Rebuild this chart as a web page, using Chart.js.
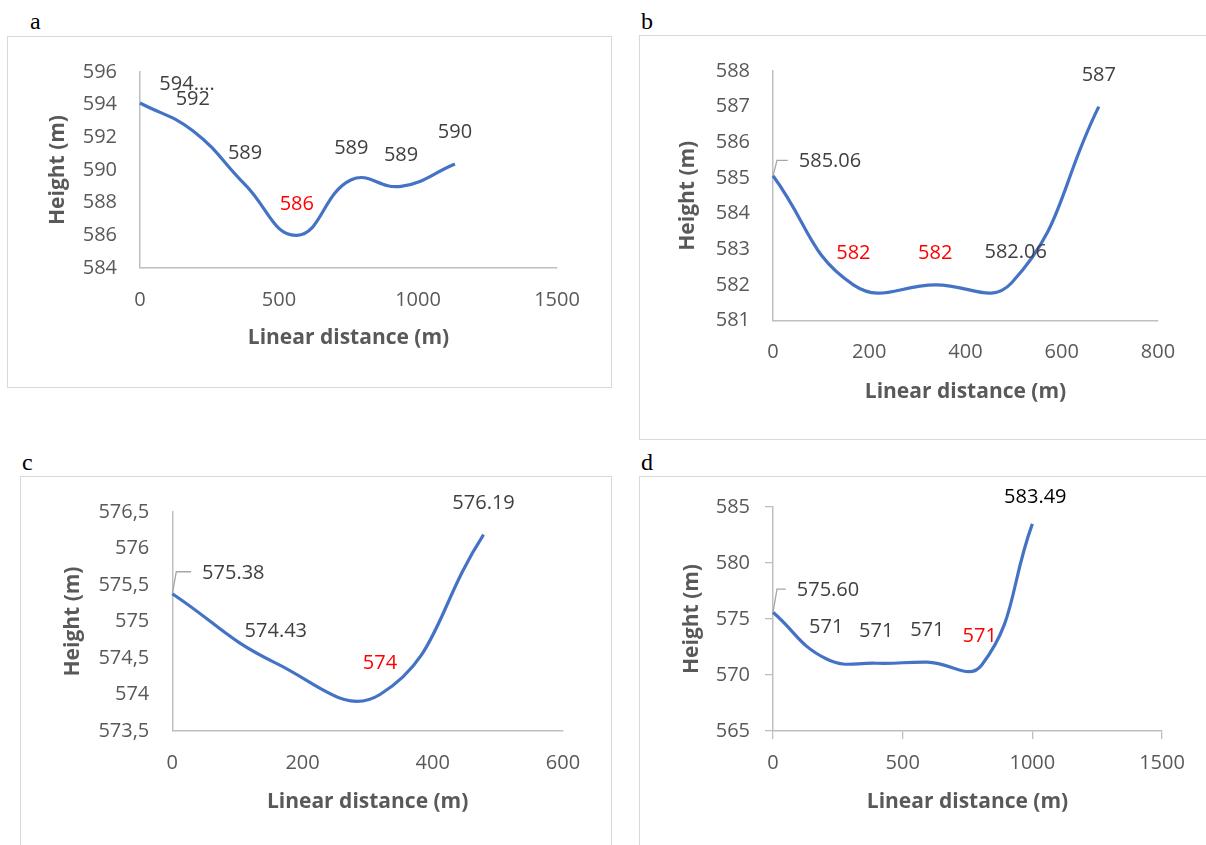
<!DOCTYPE html>
<html>
<head>
<meta charset="utf-8">
<script src="https://cdn.jsdelivr.net/npm/chart.js@4.4.1/dist/chart.umd.min.js"></script>
<style>
  html, body { margin: 0; padding: 0; background: #fff; width: 1206px; height: 845px; overflow: hidden; }
  body { position: relative; }
  .box { position: absolute; border: 1.5px solid #d9d9d9; box-sizing: border-box; }
  canvas { position: absolute; }
  .tag { position: absolute; font-family: "Liberation Serif", "DejaVu Serif", serif; font-size: 24px; line-height: 24px; color: #000; }
</style>
</head>
<body>
  <div class="tag" style="left:30px; top:9px;">a</div>
  <div class="tag" style="left:641px; top:9px;">b</div>
  <div class="tag" style="left:22px; top:450px;">c</div>
  <div class="tag" style="left:641px; top:450px;">d</div>

  <div class="box" style="left:7px; top:36px; width:605px; height:352px;"></div>
  <div class="box" style="left:639px; top:35px; width:580px; height:405px;"></div>
  <div class="box" style="left:20px; top:476px; width:592px; height:420px;"></div>
  <div class="box" style="left:639px; top:476px; width:580px; height:420px;"></div>

  <canvas id="ca" style="left:8px; top:37px;"></canvas>
  <canvas id="cb" style="left:640px; top:36px;"></canvas>
  <canvas id="cc" style="left:21px; top:477px;"></canvas>
  <canvas id="cd" style="left:640px; top:477px;"></canvas>

<script>
// ---- data: panel a ----
const distA = [0, 190, 378, 564, 760, 939, 1133];
const heightA = [594.1, 592.4, 589.1, 586.0, 589.4, 589.0, 590.37];
const labelsA = ['594....', '592', '589', '586', '589', '589', '590'];
const xTicksA = [0, 500, 1000, 1500];
const yTicksA = [584, 586, 588, 590, 592, 594, 596];

// ---- data: panel b ----
const distB = [0, 167, 337, 496, 677];
const heightB = [585.06, 582.0, 582.0, 582.06, 587.0];
const labelsB = ['585.06', '582', '582', '582.06', '587'];
const xTicksB = [0, 200, 400, 600, 800];
const yTicksB = [581, 582, 583, 584, 585, 586, 587, 588];

// ---- data: panel c ----
const distC = [0, 159, 319, 478];
const heightC = [575.38, 574.43, 574.0, 576.19];
const labelsC = ['575.38', '574.43', '574', '576.19'];
const xTicksC = [0, 200, 400, 600];
const yTicksC = [573.5, 574, 574.5, 575, 575.5, 576, 576.5];

// ---- data: panel d ----
const distD = [0, 205, 398, 595, 805, 1000];
const heightD = [575.60, 571.45, 571.05, 571.15, 570.9, 583.49];
const labelsD = ['575.60', '571', '571', '571', '571', '583.49'];
const xTicksD = [0, 500, 1000, 1500];
const yTicksD = [565, 570, 575, 580, 585];

const GREY = '#595959';
const AXIS = '#bfbfbf';
const FONT = "'Open Sans'";

// layout of each panel (canvas size, plot area inside canvas, label tweaks)
const panels = [
  { id: 'ca', dist: distA, height: heightA, labels: labelsA, xTicks: xTicksA, yTicks: yTicksA,
    w: 603, h: 350, area: { left: 132, right: 549, top: 29.5, bottom: 231 },
    yTitlePad: 37.5, xTitlePad: 36.5, tickMarks: false, comma: false,
    red: [3], black: [], leader: null, offsets: { 0: [47, -19] } },
  { id: 'cb', dist: distB, height: heightB, labels: labelsB, xTicks: xTicksB, yTicks: yTicksB,
    w: 564, h: 403, area: { left: 133, right: 518, top: 29, bottom: 284.5 },
    yTitlePad: 35.5, xTitlePad: 34.5, tickMarks: false, comma: false,
    red: [1, 2], black: [], leader: 0, offsets: { 0: [57, -14], 3: [4, -30] } },
  { id: 'cc', dist: distC, height: heightC, labels: labelsC, xTicks: xTicksC, yTicks: yTicksC,
    w: 590, h: 368, area: { left: 151.3, right: 542, top: 29.7, bottom: 254 },
    yTitlePad: 39.5, xTitlePad: 30.5, tickMarks: false, comma: true,
    red: [2], black: [], leader: 0, offsets: { 0: [61, -20.5] } },
  { id: 'cd', dist: distD, height: heightD, labels: labelsD, xTicks: xTicksD, yTicks: yTicksD,
    w: 565, h: 368, area: { left: 133, right: 522, top: 30, bottom: 254 },
    yTitlePad: 39, xTitlePad: 30.5, tickMarks: true, comma: false,
    red: [4], black: [5], leader: 0, offsets: { 0: [55, -21.6], 4: [-2, -29], 5: [3, -27] } }
];

function labelPlugin(p) {
  return {
    id: 'pointLabels',
    afterDatasetsDraw(chart) {
      const meta = chart.getDatasetMeta(0);
      const ctx = chart.ctx;
      ctx.save();
      ctx.font = "20px " + FONT;
      ctx.textAlign = 'center';
      ctx.textBaseline = 'middle';
      p.labels.forEach((t, i) => {
        const pt = meta.data[i];
        const off = p.offsets[i] || [0, -31.5];
        const x = pt.x + off[0], y = pt.y + off[1];
        if (p.leader === i) {
          const w = ctx.measureText(t).width;
          ctx.strokeStyle = '#a6a6a6';
          ctx.lineWidth = 1.3;
          ctx.beginPath();
          ctx.moveTo(pt.x, pt.y);
          ctx.lineTo(pt.x + 4, y - 1.5);
          ctx.lineTo(x - w / 2 - 11, y - 1.5);
          ctx.stroke();
        }
        ctx.fillStyle = p.red.includes(i) ? '#ff0000' : (p.black.includes(i) ? '#000000' : '#404040');
        ctx.fillText(t, x, y);
      });
      ctx.restore();
    }
  };
}

function build(p) {
  const canvas = document.getElementById(p.id);
  canvas.width = p.w;
  canvas.height = p.h;
  const fmt = v => p.comma ? String(v).replace('.', ',') : String(v);
  const tl = p.tickMarks ? 8 : 0;
  const gridOpts = { display: p.tickMarks, drawOnChartArea: false, drawTicks: p.tickMarks, tickLength: 8, color: AXIS, lineWidth: 1.3 };

  new Chart(canvas, {
    type: 'scatter',
    data: {
      datasets: [{
        data: p.dist.map((x, i) => ({ x: x, y: p.height[i] })),
        showLine: true,
        borderColor: '#4472C4',
        borderWidth: 3.2,
        pointRadius: 0,
        tension: 0.45,
        clip: false
      }]
    },
    options: {
      responsive: false,
      animation: false,
      devicePixelRatio: 1,
      layout: { padding: { left: 0, top: p.area.top, right: p.w - p.area.right, bottom: 0 } },
      plugins: { legend: { display: false }, tooltip: { enabled: false } },
      scales: {
        x: {
          type: 'linear',
          min: p.xTicks[0],
          max: p.xTicks[p.xTicks.length - 1],
          afterBuildTicks: s => { s.ticks = p.xTicks.map(v => ({ value: v })); },
          afterFit: s => { s.height = p.h - p.area.bottom; },
          grid: gridOpts,
          border: { display: true, color: AXIS, width: 1.5 },
          ticks: { padding: 20 - tl, color: GREY, font: { family: FONT, size: 20 }, maxRotation: 0, autoSkip: false, callback: v => String(v) },
          title: { display: true, text: 'Linear distance (m)', color: GREY, font: { family: FONT, size: 21, weight: 'bold' }, padding: { top: 0, bottom: p.xTitlePad } }
        },
        y: {
          type: 'linear',
          min: p.yTicks[0],
          max: p.yTicks[p.yTicks.length - 1],
          afterBuildTicks: s => { s.ticks = p.yTicks.map(v => ({ value: v })); },
          afterFit: s => { s.width = p.area.left; },
          grid: gridOpts,
          border: { display: true, color: AXIS, width: 1.5 },
          ticks: { padding: 23 - tl, color: GREY, font: { family: FONT, size: 20 }, autoSkip: false, callback: v => fmt(v) },
          title: { display: true, text: 'Height (m)', color: GREY, font: { family: FONT, size: 21, weight: 'bold' }, padding: { top: p.yTitlePad, bottom: 0 } }
        }
      }
    },
    plugins: [labelPlugin(p)]
  });
}

Promise.all([
  document.fonts.load("20px 'Open Sans'"),
  document.fonts.load("bold 21px 'Open Sans'")
]).catch(() => {}).then(() => panels.forEach(build));
</script>
</body>
</html>
